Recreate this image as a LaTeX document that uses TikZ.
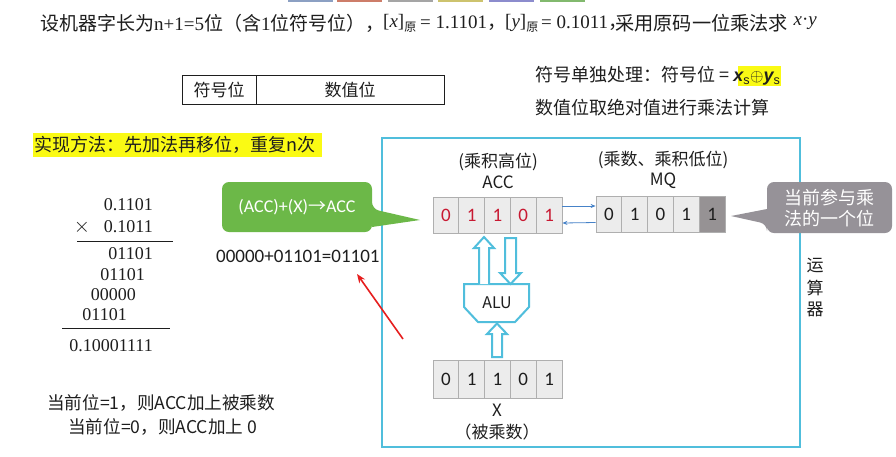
\documentclass[tikz,border=0pt]{standalone}
\usepackage{fontspec}
\setmainfont{Noto Sans CJK SC}
\newfontfamily\tms{Liberation Serif}
\newfontfamily\calfont{Carlito}
\newfontfamily\lsans{Liberation Sans}
\usetikzlibrary{arrows.meta}
\definecolor{frameblue}{RGB}{80,190,220}
\definecolor{cellfill}{RGB}{236,236,236}
\definecolor{cellline}{RGB}{175,175,175}
\definecolor{accred}{RGB}{200,25,50}
\definecolor{mqdark}{RGB}{150,146,148}
\definecolor{calloutgreen}{RGB}{108,184,72}
\definecolor{calloutgray}{RGB}{150,146,152}
\definecolor{hiyellow}{RGB}{250,250,20}
\definecolor{thinblue}{RGB}{70,130,200}
\definecolor{redarrow}{RGB}{230,30,30}
\definecolor{textgray}{RGB}{30,30,30}
\definecolor{tabA}{RGB}{140,160,195}
\definecolor{tabB}{RGB}{205,125,105}
\definecolor{tabC}{RGB}{165,165,165}
\definecolor{tabD}{RGB}{205,195,110}
\definecolor{tabE}{RGB}{140,140,205}
\definecolor{tabF}{RGB}{130,185,110}
\tikzset{
  txt/.style={inner sep=0pt, text=textgray},
  ttl/.style={txt, anchor=west, font=\fontsize{19}{20}\selectfont},
  cell/.style={draw=cellline, fill=cellfill, line width=0.8pt, minimum width=25.8pt, minimum height=36pt, inner sep=0pt, font=\calfont\fontsize{19}{20}\selectfont},
  hollow/.style={draw=frameblue, line width=2pt, fill=white, line join=miter},
  thin/.style={draw=thinblue, line width=0.8pt, -{Stealth[length=5pt,width=4pt]}},
}
\newcommand{\tmsz}{\tms\fontsize{19}{20}\selectfont}
\begin{document}
\begin{tikzpicture}[x=1pt,y=-1pt]
\useasboundingbox (0,0) rectangle (896,456);
\fill[white] (0,0) rectangle (896,456);
% top tabs
\foreach \a/\b/\c in {288/333/tabA,337/382/tabB,388/433/tabC,438/483/tabD,489/534/tabE,540/585/tabF}
  \fill[\c] (\a,0) rectangle (\b,2);
% title line
\node[ttl] (title1) at (40,23) {设机器字长为{\tmsz n+1=5}位（含{\tmsz 1}位符号位），};
\node[ttl] (title2) at (383,23) {{\tmsz [\textit{x}]}\raisebox{-4pt}{\fontsize{12}{12}\selectfont 原}};
\node[ttl] (title3) at (420,23) {{\tmsz = 1.1101}，};
\node[ttl] (title4) at (505,23) {{\tmsz [\textit{y}]}\raisebox{-4pt}{\fontsize{12}{12}\selectfont 原}};
\node[ttl] (title5) at (541,23) {{\tmsz = 0.1011}，};
\node[ttl] (title6) at (615,23) {\fontsize{19.2}{20}\selectfont 采用原码一位乘法求};
\node[txt, anchor=east] (title7) at (817,23) {\tmsz\textit{x}·\textit{y}};
% sign / value table
\draw[line width=0.8pt, draw=textgray] (182,75) rectangle (444,104);
\draw[line width=0.8pt, draw=textgray] (256,75) -- (256,104);
\node[txt] (signbit) at (219,90) {\fontsize{17}{18}\selectfont 符号位};
\node[txt] (valbits) at (350,90) {\fontsize{17}{18}\selectfont 数值位};
% right notes
\fill[hiyellow] (738,66) rectangle (781,86);
\node[txt, anchor=west] (signnote) at (535,76) {\fontsize{18}{20}\selectfont 符号单独处理：符号位 = {\lsans\bfseries\itshape x}\textsubscript{\lsans s}{\lsans\bfseries$\oplus$}{\lsans\bfseries\itshape y}\textsubscript{\lsans s}};
\node[txt, anchor=west] (valnote) at (535,108) {\fontsize{18}{20}\selectfont 数值位取绝对值进行乘法计算};
% method
\fill[hiyellow] (33,133) rectangle (322,157);
\node[txt, anchor=west] (method) at (34,145) {\fontsize{18}{20}\selectfont 实现方法：先加法再移位，重复n次};
% frame
\draw[frameblue, line width=1.6pt] (382,138) rectangle (800,447);
\node[txt, anchor=north] (yun) at (815,258) {\fontsize{17}{18}\selectfont 运};
\node[txt, anchor=north] (suan) at (815,280) {\fontsize{17}{18}\selectfont 算};
\node[txt, anchor=north] (qi) at (815,302) {\fontsize{17}{18}\selectfont 器};
% ACC
\node[txt] (acclab1) at (498,162) {\fontsize{17}{18}\selectfont (乘积高位)};
\node[txt] (acclab2) at (498,182) {\fontsize{17}{18}\selectfont ACC};
\foreach \i/\d in {0/0,1/1,2/1,3/0,4/1}
  \node[cell, text=accred] (acc\i) at (445.9+25.8*\i,215) {\d};
% MQ
\node[txt] (mqlab1) at (663,160) {\fontsize{17}{18}\selectfont (乘数、乘积低位)};
\node[txt] (mqlab2) at (663,181) {\fontsize{17}{18}\selectfont MQ};
\foreach \i/\d in {0/0,1/1,2/0,3/1}
  \node[cell, text=textgray] (mq\i) at (608.9+25.8*\i,214.5) {\d};
\node[cell, fill=mqdark, text=textgray] (mq4) at (608.9+25.8*4,214.5) {1};
% ACC <-> MQ
\draw[thin] ([yshift=9pt]acc4.east) -- ([yshift=8.5pt]mq0.west);
\draw[thin] ([yshift=-8pt]mq0.west) -- ([yshift=-8pt]acc4.east);
% X register
\foreach \i/\d in {0/0,1/1,2/1,3/0,4/1}
  \node[cell, minimum height=38pt, text=textgray] (x\i) at (445.9+25.8*\i,379) {\d};
\node[txt] (xlab1) at (497,410) {\fontsize{17}{18}\selectfont X};
\node[txt] (xlab2) at (497,432) {\fontsize{17}{18}\selectfont （被乘数）};
% ALU
\draw[hollow] (464,284) -- (529,284) -- (529,307) -- (515,322) -- (478,322) -- (464,307) -- cycle;
\node[txt] (alu) at (497,303) {\fontsize{16}{18}\selectfont ALU};
% hollow arrows
\draw[hollow] (479,284) -- (479,248) -- (474,248) -- (484,237) -- (494,248) -- (489,248) -- (489,284);
\draw[hollow] (505,238) -- (505,273) -- (500,273) -- (510.5,284) -- (521,273) -- (516,273) -- (516,238) -- cycle;
\draw[hollow] (492,357) -- (492,334) -- (487,334) -- (497,323.5) -- (507,334) -- (502,334) -- (502,357) -- cycle;
% green callout
\fill[calloutgreen, rounded corners=7pt] (222,182) -- (372,182) -- (372,209) [sharp corners] -- (420,220) -- (372,227) [rounded corners=7pt] -- (372,232) -- (222,232) -- cycle;
\node[inner sep=0pt, text=white] (addop) at (297,207) {\fontsize{18}{20}\selectfont{\calfont (ACC)+(X)}→{\calfont ACC}};
% gray callout
\fill[calloutgray, rounded corners=7pt] (767,182) -- (892,182) -- (892,233) -- (767,233) -- (767,224) [sharp corners] -- (731,216) -- (767,209) [rounded corners=7pt] -- cycle;
\node[inner sep=0pt, text=white, align=center, font=\fontsize{18}{21}\selectfont] (curbit) at (829.5,208) {当前参与乘\\法的一个位};
% sum
\node[txt, anchor=west] (sum) at (216,256) {\calfont\fontsize{19}{20}\selectfont 00000+01101=01101};
% red arrow
\coordinate (rtail) at (403,339);
\coordinate (rhead) at (357,274);
\draw[redarrow, line width=1.6pt, -{Stealth[length=9pt,width=7pt]}] (rtail) -- (rhead);
% multiplication
\begin{scope}[every node/.style={txt, anchor=east, font=\tms\fontsize{18}{20}\selectfont}]
\node (m1) at (153,205) {0.1101};
\node (m2) at (153,227) {0.1011};
\node (p1) at (153,254) {01101};
\node (p2) at (145,275) {01101};
\node (p3) at (136,295) {00000};
\node (p4) at (127,315) {01101};
\node (res) at (153,346) {0.10001111};
\end{scope}
\node[txt] (times) at (82,227) {\fontsize{20}{20}\selectfont $\times$};
\draw[line width=0.7pt, draw=textgray] (77,241) -- (173,241);
\draw[line width=0.7pt, draw=textgray] (62,328) -- (170,328);
% bottom rules
\node[txt, anchor=west] (rule1) at (47,403) {\fontsize{17.6}{18}\selectfont 当前位=1，则ACC加上被乘数};
\node[txt, anchor=west] (rule0) at (68,427) {\fontsize{17.6}{18}\selectfont 当前位=0，则ACC加上 0};
\end{tikzpicture}
\end{document}
